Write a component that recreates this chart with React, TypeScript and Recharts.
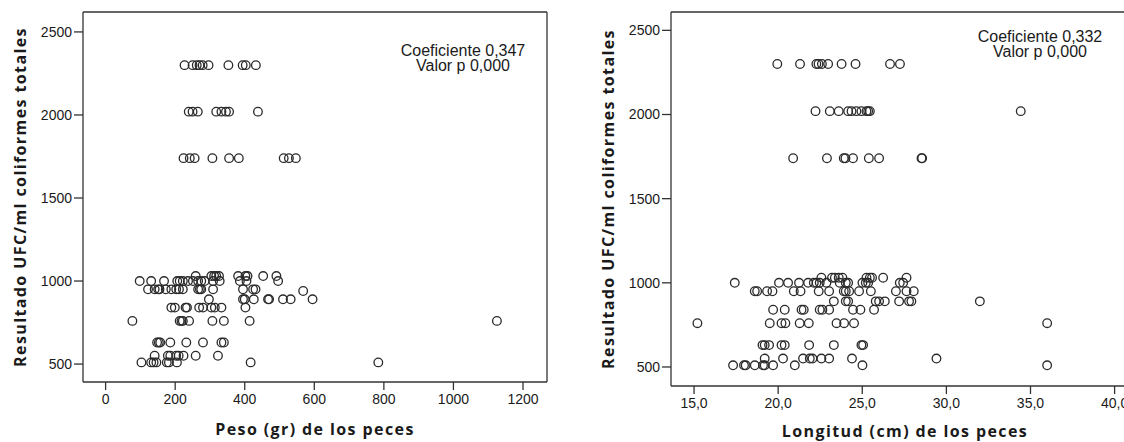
import React from 'react';
import { ScatterChart, Scatter, XAxis, YAxis, ReferenceLine } from 'recharts';

// ---- Data ----
// Left panel: Peso (gr) vs Resultado UFC/ml
const pesoLevels = [2300, 2020, 1740, 1030, 1000, 950, 940, 890, 840, 760, 630, 550, 510];
const pesoRows: number[][] = [
  [227, 250, 262, 270, 279, 296, 353, 394, 403, 432],
  [239, 250, 265, 318, 333, 346, 355, 438],
  [224, 242, 256, 307, 355, 383, 512, 527, 547],
  [259, 304, 312, 318, 326, 381, 402, 408, 453, 491],
  [98, 131, 168, 206, 213, 222, 237, 251, 266, 275, 285, 309, 328, 386, 405, 496],
  [122, 141, 151, 155, 173, 189, 203, 211, 222, 266, 271, 275, 309, 395, 424, 431],
  [568],
  [297, 395, 400, 426, 467, 470, 510, 532, 595],
  [189, 199, 230, 234, 269, 280, 304, 314, 333, 402],
  [77, 213, 218, 222, 240, 307, 340, 414, 1125],
  [148, 153, 157, 186, 232, 280, 333, 340],
  [141, 179, 186, 203, 210, 224, 259, 323],
  [103, 131, 138, 146, 176, 182, 205, 417, 784],
];

// Right panel: Longitud (cm) vs Resultado UFC/ml
const longLevels = [2300, 2020, 1740, 1030, 1000, 950, 890, 840, 760, 630, 550, 510];
const longRows: number[][] = [
  [19.95, 21.3, 22.27, 22.4, 22.6, 22.97, 23.77, 24.6, 26.65, 27.24],
  [22.22, 23.07, 23.6, 24.16, 24.36, 24.65, 24.95, 25.25, 25.35, 25.45, 34.42],
  [20.89, 22.9, 23.9, 24.0, 24.45, 25.39, 26.0, 28.52, 28.56],
  [22.57, 23.2, 23.37, 23.6, 23.82, 25.25, 25.45, 25.58, 26.24, 27.63],
  [17.42, 20.05, 20.59, 21.24, 21.78, 22.12, 22.28, 22.47, 22.87, 23.66, 24.02, 24.16, 25.01, 25.21, 25.35, 27.23, 27.43],
  [18.61, 18.75, 19.34, 19.66, 20.93, 21.33, 22.41, 23.03, 23.9, 24.02, 24.22, 24.81, 25.51, 27.0, 27.63, 28.06],
  [23.31, 24.02, 24.16, 25.8, 26.0, 26.34, 27.19, 27.78, 27.92, 31.99],
  [19.7, 20.39, 21.39, 21.52, 22.47, 22.63, 23.03, 24.45, 24.89, 25.7],
  [15.2, 19.5, 20.2, 20.43, 21.28, 21.82, 23.47, 23.92, 24.51, 35.99],
  [19.07, 19.2, 19.46, 20.2, 20.39, 21.84, 23.31, 24.95, 25.05],
  [19.2, 20.29, 21.48, 21.88, 22.04, 22.57, 23.03, 24.39, 29.41],
  [17.32, 17.97, 18.07, 18.61, 19.1, 19.2, 19.7, 20.99, 25.01, 35.99],
];

const yTicks = [500, 1000, 1500, 2000, 2500];
const pesoTicks = [0, 200, 400, 600, 800, 1000, 1200];
const longTicks = [15, 20, 25, 30, 35, 40];

const pesoXDomain: [number, number] = [-65, 1269];
const pesoYDomain: [number, number] = [392, 2620];
const longXDomain: [number, number] = [13.63, 41.45];
const longYDomain: [number, number] = [387, 2609];

const yTitle = 'Resultado UFC/ml coliformes totales';
const pesoTitle = 'Peso (gr) de los peces';
const longTitle = 'Longitud (cm) de los peces';
const pesoStats = ['Coeficiente 0,347', 'Valor p 0,000'];
const longStats = ['Coeficiente 0,332', 'Valor p 0,000'];

const build = (levels: number[], rows: number[][]) =>
  rows.flatMap((r, i) => r.map((x) => ({ x, y: levels[i] })));

const pesoData = build(pesoLevels, pesoRows);
const longData = build(longLevels, longRows);

const LINE = '#333';
const tickStyle = { fill: '#1a1a1a', fontSize: 14, fontFamily: 'Liberation Sans, Arial, sans-serif' };
const titleStyle: React.CSSProperties = {
  fontFamily: 'Open Sans, sans-serif',
  fontWeight: 700,
  fontSize: 16,
  letterSpacing: 1.4,
  fill: '#1a1a1a',
};
const statStyle: React.CSSProperties = {
  fontFamily: 'Liberation Sans, Arial, sans-serif',
  fontSize: 16,
  fill: '#1a1a1a',
};

const Ring = (p: any) =>
  p.cx == null ? null : (
    <circle cx={p.cx} cy={p.cy} r={4.3} fill="none" stroke="#2a2a2a" strokeWidth={1.3} />
  );

const fmtComma = (v: number) => v.toFixed(1).replace('.', ',');

export default function App() {
  return (
    <div
      style={{
        position: 'fixed',
        left: 0,
        top: 0,
        width: 1124,
        height: 442,
        overflow: 'hidden',
        background: '#fff',
      }}
    >
      <div style={{ position: 'absolute', left: 0, top: 0 }}>
        <ScatterChart width={560} height={442} margin={{ top: 12, right: 13, bottom: 30, left: 23 }}>
          <XAxis
            type="number"
            dataKey="x"
            domain={pesoXDomain}
            ticks={pesoTicks}
            allowDataOverflow
            height={30}
            tickSize={8}
            tickMargin={4}
            stroke={LINE}
            strokeWidth={1.3}
            tick={tickStyle}
          />
          <YAxis
            type="number"
            dataKey="y"
            domain={pesoYDomain}
            ticks={yTicks}
            allowDataOverflow
            width={60}
            tickSize={9}
            tickMargin={2}
            stroke={LINE}
            strokeWidth={1.3}
            tick={tickStyle}
          />
          <ReferenceLine y={pesoYDomain[1]} stroke={LINE} strokeWidth={1.3} />
          <ReferenceLine x={pesoXDomain[1]} stroke={LINE} strokeWidth={1.3} />
          <Scatter data={pesoData} shape={Ring} isAnimationActive={false} />
        </ScatterChart>
      </div>
      <div style={{ position: 'absolute', left: 560, top: 0 }}>
        <ScatterChart width={600} height={442} margin={{ top: 12, right: 21, bottom: 26, left: 51 }}>
          <XAxis
            type="number"
            dataKey="x"
            domain={longXDomain}
            ticks={longTicks}
            tickFormatter={fmtComma}
            allowDataOverflow
            height={30}
            tickSize={8}
            tickMargin={4}
            stroke={LINE}
            strokeWidth={1.3}
            tick={tickStyle}
          />
          <YAxis
            type="number"
            dataKey="y"
            domain={longYDomain}
            ticks={yTicks}
            allowDataOverflow
            width={60}
            tickSize={9}
            tickMargin={2}
            stroke={LINE}
            strokeWidth={1.3}
            tick={tickStyle}
          />
          <ReferenceLine y={longYDomain[1]} stroke={LINE} strokeWidth={1.3} />
          <ReferenceLine x={longXDomain[1]} stroke={LINE} strokeWidth={1.3} />
          <Scatter data={longData} shape={Ring} isAnimationActive={false} />
        </ScatterChart>
      </div>
      <svg
        width={1124}
        height={442}
        style={{ position: 'absolute', left: 0, top: 0, pointerEvents: 'none' }}
      >
        <text x={0} y={0} transform="translate(20,197) rotate(-90)" textAnchor="middle" dominantBaseline="central" style={titleStyle}>
          {yTitle}
        </text>
        <text x={0} y={0} transform="translate(608,199) rotate(-90)" textAnchor="middle" dominantBaseline="central" style={titleStyle}>
          {yTitle}
        </text>
        <text x={315} y={435} textAnchor="middle" style={titleStyle}>
          {pesoTitle}
        </text>
        <text x={905} y={437} textAnchor="middle" style={titleStyle}>
          {longTitle}
        </text>
        <text x={463} y={56} textAnchor="middle" style={statStyle}>{pesoStats[0]}</text>
        <text x={463} y={71} textAnchor="middle" style={statStyle}>{pesoStats[1]}</text>
        <text x={1040} y={42} textAnchor="middle" style={statStyle}>{longStats[0]}</text>
        <text x={1040} y={57} textAnchor="middle" style={statStyle}>{longStats[1]}</text>
      </svg>
    </div>
  );
}
